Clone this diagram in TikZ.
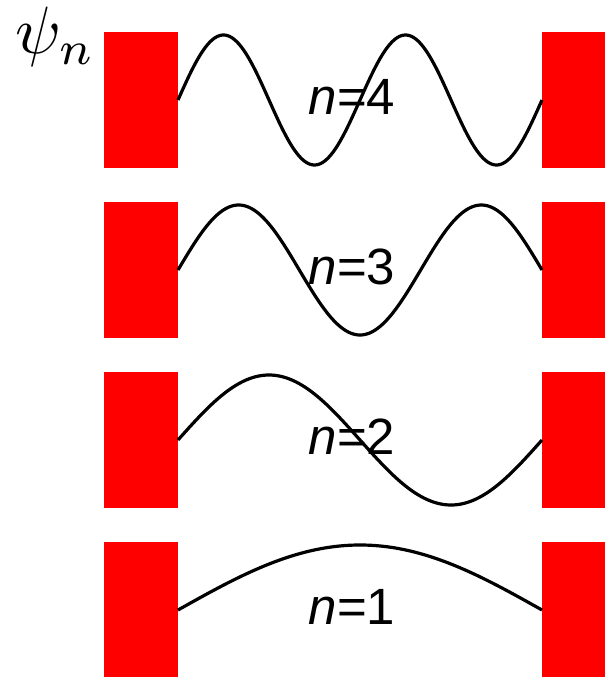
\documentclass[tikz,border=0pt]{standalone}
\usepackage{fontspec}
\setsansfont{Liberation Sans}
\begin{document}
\begin{tikzpicture}[x=1pt,y=-1pt,
  wall/.style={fill=red,draw=none},
  wave/.style={line width=3.2pt,black},
  lab/.style={font=\sffamily\fontsize{51}{51}\selectfont,anchor=base,inner sep=0pt}]
\useasboundingbox (0,0) rectangle (605,677);
\node[anchor=base west,inner sep=0pt,scale=6.7] (psi) at (14,54) {$\psi_n$};
\foreach \n/\top in {4/32,3/202,2/372,1/542}{
  \pgfmathsetmacro{\c}{\top+68}
  \pgfmathsetmacro{\k}{\n*180/364}
  \fill[wall] (104,\top) rectangle (178,\top+136);
  \fill[wall] (542,\top) rectangle (605,\top+136);
  \draw[wave,domain=0:364,samples=200,smooth,variable=\t] plot ({178+\t},{\c-65*sin(\k*\t)});
  \node[lab] (l\n) at (352,\c+14) {{\itshape n}=\n};
}
\end{tikzpicture}
\end{document}
